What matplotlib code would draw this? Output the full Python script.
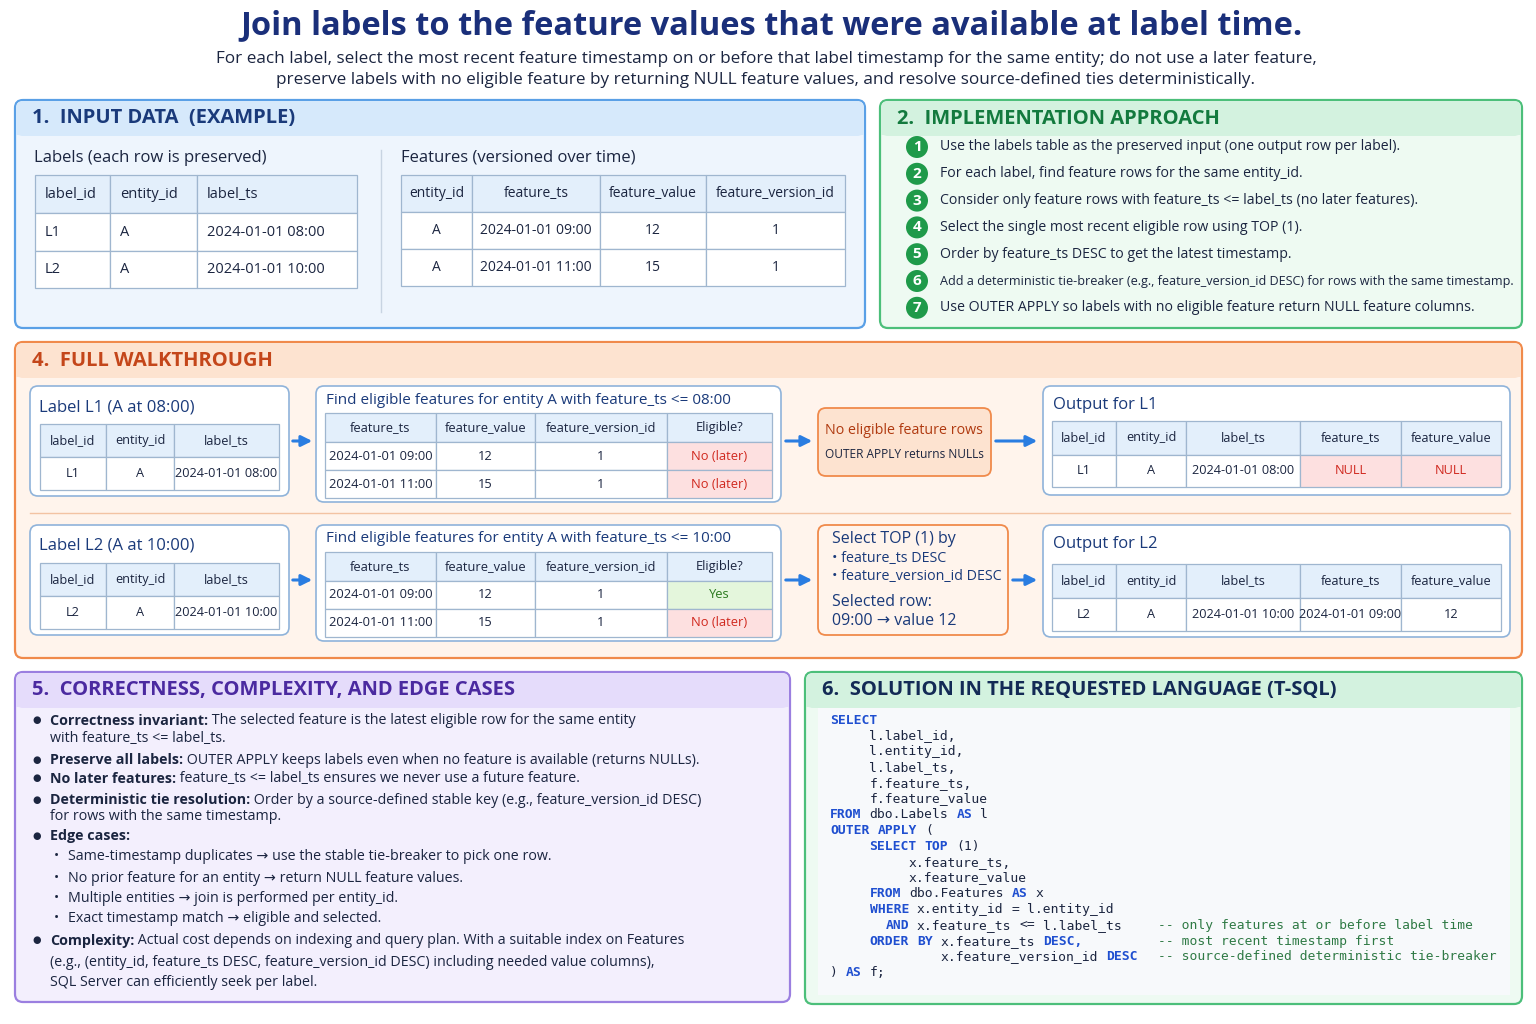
import matplotlib
matplotlib.use("Agg")
import matplotlib.pyplot as plt
from matplotlib.patches import FancyBboxPatch, Rectangle, Circle

plt.rcParams['font.family'] = ['Open Sans', 'DejaVu Sans']

# ---- data ----
title = "Join labels to the feature values that were available at label time."
subtitle = ["For each label, select the most recent feature timestamp on or before that label timestamp for the same entity; do not use a later feature,",
            "preserve labels with no eligible feature by returning NULL feature values, and resolve source-defined ties deterministically."]

labels_cols = ["label_id", "entity_id", "label_ts"]
labels_rows = [["L1", "A", "2024-01-01 08:00"], ["L2", "A", "2024-01-01 10:00"]]
feat_cols = ["entity_id", "feature_ts", "feature_value", "feature_version_id"]
feat_rows = [["A", "2024-01-01 09:00", "12", "1"], ["A", "2024-01-01 11:00", "15", "1"]]

steps = ["Use the labels table as the preserved input (one output row per label).",
         "For each label, find feature rows for the same entity_id.",
         "Consider only feature rows with feature_ts <= label_ts (no later features).",
         "Select the single most recent eligible row using TOP (1).",
         "Order by feature_ts DESC to get the latest timestamp.",
         "Add a deterministic tie-breaker (e.g., feature_version_id DESC) for rows with the same timestamp.",
         "Use OUTER APPLY so labels with no eligible feature return NULL feature columns."]

elig_cols = ["feature_ts", "feature_value", "feature_version_id", "Eligible?"]
elig_l1 = [["2024-01-01 09:00", "12", "1", "No (later)"], ["2024-01-01 11:00", "15", "1", "No (later)"]]
elig_l2 = [["2024-01-01 09:00", "12", "1", "Yes"], ["2024-01-01 11:00", "15", "1", "No (later)"]]
out_cols = ["label_id", "entity_id", "label_ts", "feature_ts", "feature_value"]
out_l1 = ["L1", "A", "2024-01-01 08:00", "NULL", "NULL"]
out_l2 = ["L2", "A", "2024-01-01 10:00", "2024-01-01 09:00", "12"]

bullets = [
    (0, "Correctness invariant:", " The selected feature is the latest eligible row for the same entity"),
    (1, "", "with feature_ts <= label_ts."),
    (0, "Preserve all labels:", " OUTER APPLY keeps labels even when no feature is available (returns NULLs)."),
    (0, "No later features:", " feature_ts <= label_ts ensures we never use a future feature."),
    (0, "Deterministic tie resolution:", " Order by a source-defined stable key (e.g., feature_version_id DESC)"),
    (1, "", "for rows with the same timestamp."),
    (0, "Edge cases:", ""),
    (2, "", "Same-timestamp duplicates \u2192 use the stable tie-breaker to pick one row."),
    (2, "", "No prior feature for an entity \u2192 return NULL feature values."),
    (2, "", "Multiple entities \u2192 join is performed per entity_id."),
    (2, "", "Exact timestamp match \u2192 eligible and selected."),
    (0, "Complexity:", " Actual cost depends on indexing and query plan. With a suitable index on Features"),
    (1, "", "(e.g., (entity_id, feature_ts DESC, feature_version_id DESC) including needed value columns),"),
    (1, "", "SQL Server can efficiently seek per label."),
]
bullet_y = [721, 738, 760, 779, 800, 816, 836, 857, 878, 898, 919, 941, 962, 982]

code = ["SELECT",
        "     l.label_id,",
        "     l.entity_id,",
        "     l.label_ts,",
        "     f.feature_ts,",
        "     f.feature_value",
        "FROM dbo.Labels AS l",
        "OUTER APPLY (",
        "     SELECT TOP (1)",
        "          x.feature_ts,",
        "          x.feature_value",
        "     FROM dbo.Features AS x",
        "     WHERE x.entity_id = l.entity_id",
        "       AND x.feature_ts <= l.label_ts",
        "     ORDER BY x.feature_ts DESC,",
        "              x.feature_version_id DESC",
        ") AS f;"]
comments = {13: "-- only features at or before label time",
            14: "-- most recent timestamp first",
            15: "-- source-defined deterministic tie-breaker"}
keywords = {"SELECT", "FROM", "AS", "OUTER", "APPLY", "TOP", "WHERE", "AND", "ORDER", "BY", "DESC", "DESC,"}

# ---- drawing helpers ----
fig = plt.figure(figsize=(15.36, 10.24), dpi=100)
ax = fig.add_axes([0, 0, 1, 1])
ax.set_xlim(0, 1536)
ax.set_ylim(1024, 0)
ax.axis('off')
renderer = fig.canvas.get_renderer()


def box(x, y, w, h, fc, ec, lw=1.3, r=8):
    ax.add_patch(FancyBboxPatch((x, y), w, h, boxstyle=f"round,pad=0,rounding_size={r}",
                                fc=fc, ec=ec, lw=lw))


def panel(x, y, w, h, bg, ec, band, head, hcol, hh=35):
    box(x, y, w, h, bg, ec, lw=1.6)
    ax.add_patch(FancyBboxPatch((x + 1, y + 1), w - 2, hh, boxstyle="round,pad=0,rounding_size=7",
                                fc=band, ec='none'))
    ax.add_patch(Rectangle((x + 1, y + hh - 8), w - 2, 8, fc=band, ec='none'))
    ax.text(x + 17, y + hh / 2 + 1, head, fontsize=14.5, fontweight='bold', color=hcol, va='center')


def table(xs, ys, header, rows, hdr_fc='#e3effb', fs=10.5, cell_fc=None, cell_tc=None, align=None):
    for j in range(len(ys) - 1):
        for i in range(len(xs) - 1):
            fc = hdr_fc if j == 0 else 'white'
            tc = '#1b2540'
            if j > 0 and cell_fc and (j - 1, i) in cell_fc:
                fc = cell_fc[(j - 1, i)]
                tc = cell_tc[(j - 1, i)]
            ax.add_patch(Rectangle((xs[i], ys[j]), xs[i + 1] - xs[i], ys[j + 1] - ys[j],
                                   fc=fc, ec='#9fb6cf', lw=0.9))
            s = header[i] if j == 0 else rows[j - 1][i]
            a = align[i] if align else 'center'
            tx = xs[i] + 10 if a == 'left' else (xs[i] + xs[i + 1]) / 2
            ax.text(tx, (ys[j] + ys[j + 1]) / 2, s, fontsize=fs, color=tc, ha=a, va='center')


def arrow(x0, x1, y):
    ax.annotate("", xy=(x1, y), xytext=(x0, y),
                arrowprops=dict(arrowstyle='-|>', color='#2a7de1', lw=2.2, mutation_scale=16))


# ---- title ----
ax.text(771, 26, title, fontsize=23.5, fontweight='bold', color='#1a2f7a', ha='center', va='center')
for k, s in enumerate(subtitle):
    ax.text(766, 59 + 21 * k, s, fontsize=12.3, color='#1b2540', ha='center', va='center')

# ---- panel 1 ----
panel(15, 100, 850, 228, '#eef5fd', '#5aa0e6', '#d6e9fb', "1.  INPUT DATA  (EXAMPLE)", '#1a3a7a')
ax.text(34, 158, "Labels (each row is preserved)", fontsize=12, color='#1b2540', va='center')
table([35, 110, 197, 357], [175, 213, 251, 288], labels_cols, labels_rows, fs=10.5,
      align=['left', 'left', 'left'])
ax.plot([381, 381], [150, 312], color='#c8d4e2', lw=1)
ax.text(401, 158, "Features (versioned over time)", fontsize=12, color='#1b2540', va='center')
table([401, 472, 600, 706, 845], [175, 212, 249, 286], feat_cols, feat_rows, fs=10)

# ---- panel 2 ----
panel(880, 100, 642, 228, '#eefaf2', '#4cbf7a', '#d3f2df', "2.  IMPLEMENTATION APPROACH", '#137a3e')
for k, s in enumerate(steps):
    yy = 147 + 26.8 * k
    ax.add_patch(Circle((917, yy), 11, fc='#1f9a4a', ec='none'))
    ax.text(917, yy, str(k + 1), fontsize=11, fontweight='bold', color='white', ha='center', va='center')
    t = ax.text(940, yy, s, fontsize=10.2, color='#1b2540', va='center')
    w = t.get_window_extent(renderer).width
    if w > 568:
        t.set_fontsize(10.2 * 568 / w)

# ---- panel 4 ----
panel(15, 342, 1507, 316, '#fff4ec', '#f08a4b', '#fde3d0', "4.  FULL WALKTHROUGH", '#c4461a')
ax.plot([30, 1510], [513, 513], color='#f3c3a3', lw=1)

for r, (lab, rowl, elig, tlabel, out) in enumerate([
        (labels_rows[0], "Label L1 (A at 08:00)", elig_l1, "08:00", out_l1),
        (labels_rows[1], "Label L2 (A at 10:00)", elig_l2, "10:00", out_l2)]):
    dy = 139 * r
    box(30, 386 + dy, 259, 110, 'white', '#8fb3da', lw=1.2)
    ax.text(39, 407 + dy, rowl, fontsize=12, color='#1a3a7a', va='center')
    table([40, 106, 174, 279], [424 + dy, 457 + dy, 490 + dy], labels_cols, [lab], fs=9.2)
    arrow(290, 315, 441 + dy)

    box(316, 386 + dy, 465, 116, 'white', '#8fb3da', lw=1.2)
    ax.text(326, 400 + dy, f"Find eligible features for entity A with feature_ts <= {tlabel}",
            fontsize=11, color='#1a3a7a', va='center')
    cfc, ctc = {}, {}
    for j, row in enumerate(elig):
        cfc[(j, 3)] = '#e4f6dc' if row[3] == 'Yes' else '#fde0e0'
        ctc[(j, 3)] = '#2b7a1f' if row[3] == 'Yes' else '#d0281e'
    table([325, 436, 535, 667, 772], [413 + dy, 442 + dy, 470 + dy, 498 + dy], elig_cols, elig,
          fs=9.3, cell_fc=cfc, cell_tc=ctc)
    arrow(783, 815, 441 + dy)

    if r == 0:
        box(818, 408, 173, 68, '#fde3d0', '#f08a4b', lw=1.3)
        ax.text(904, 431, "No eligible feature rows", fontsize=10.3, color='#b03a10', ha='center', va='center')
        ax.text(904, 455, "OUTER APPLY returns NULLs", fontsize=8.6, color='#1b2540', ha='center', va='center')
        arrow(993, 1040, 441)
    else:
        box(818, 525, 190, 110, '#fff4ec', '#f08a4b', lw=1.3)
        for s, yy, fs in [("Select TOP (1) by", 539, 11.5), ("\u2022 feature_ts DESC", 558, 10.3),
                          ("\u2022 feature_version_id DESC", 577, 10.3), ("Selected row:", 602, 11.5),
                          ("09:00 \u2192 value 12", 621, 11.5)]:
            ax.text(832, yy, s, fontsize=fs, color='#1a3a7a', va='center')
        arrow(1010, 1040, 580)

    box(1043, 386 + dy, 467, 109 + (3 if r else 0), 'white', '#8fb3da', lw=1.2)
    ax.text(1053, 405 + dy, f"Output for L{r + 1}", fontsize=12, color='#1a3a7a', va='center')
    ofc, otc = {}, {}
    if r == 0:
        ofc = {(0, 3): '#fde0e0', (0, 4): '#fde0e0'}
        otc = {(0, 3): '#d0281e', (0, 4): '#d0281e'}
    table([1052, 1116, 1186, 1300, 1401, 1501], [421 + dy + 4 * r, 455 + dy + 4 * r, 487 + dy + 5 * r],
          out_cols, [out], fs=9.2, cell_fc=ofc, cell_tc=otc)

# ---- panel 5 ----
panel(15, 672, 775, 330, '#f3effd', '#9b7fe0', '#e5dcfb', "5.  CORRECTNESS, COMPLEXITY, AND EDGE CASES", '#4b2aa0')
fs5 = 10.3
for (lvl, bold, rest), yy in zip(bullets, bullet_y):
    if lvl == 0:
        ax.text(37, yy, "\u25cf", fontsize=7, color='#1b2540', va='center', ha='center')
        t = ax.text(50, yy, bold, fontsize=fs5, fontweight='bold', color='#1b2540', va='center')
        bb = t.get_window_extent(renderer)
        ax.text(bb.x1, yy, rest, fontsize=fs5, color='#1b2540', va='center')
    elif lvl == 1:
        ax.text(50, yy, rest, fontsize=fs5, color='#1b2540', va='center')
    else:
        ax.text(56, yy, "\u2022", fontsize=10, color='#1b2540', va='center', ha='center')
        ax.text(68, yy, rest, fontsize=fs5, color='#1b2540', va='center')

# ---- panel 6 ----
panel(805, 672, 717, 332, '#eefaf2', '#4cbf7a', '#d3f2df', "6.  SOLUTION IN THE REQUESTED LANGUAGE (T-SQL)", '#132a55')
ax.add_patch(Rectangle((818, 708), 692, 287, fc='#f7f9fb', ec='none'))
cw = 7.9
for k, line in enumerate(code):
    yy = 720 + 15.8 * k
    col = 0
    for tok in line.split(' '):
        if tok:
            kw = tok in keywords
            ax.text(830 + col * cw, yy, tok, fontsize=9.4, family='DejaVu Sans Mono',
                    color='#1f4fd0' if kw else '#1b2540', fontweight='bold' if kw else 'normal', va='center')
        col += len(tok) + 1
    if k in comments:
        ax.text(1158, yy, comments[k], fontsize=9.4, family='DejaVu Sans Mono', color='#2f7a45', va='center')

fig.savefig("out.png", dpi=100)
